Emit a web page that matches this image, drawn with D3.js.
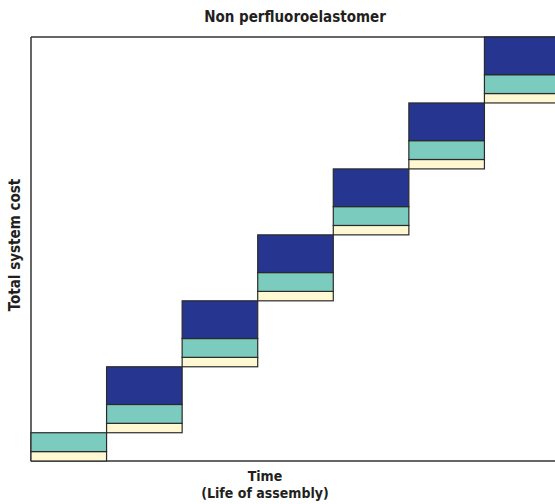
<!DOCTYPE html>
<html>
<head>
<meta charset="utf-8">
<script src="https://cdn.jsdelivr.net/npm/d3@7"></script>
<style>
  html, body { margin: 0; padding: 0; background: #fff; overflow: hidden; }
  text { font-family: "Liberation Sans Narrow", "Arial Narrow", "DejaVu Sans Condensed", sans-serif; font-weight: bold; fill: #231f20; }
</style>
</head>
<body>
<div id="chart"></div>
<script>
// Stages over the life of the assembly (each is one replacement cycle)
const stages = ["1", "2", "3", "4", "5", "6", "7"];
// Cost components per stage (relative units)
const seal = [1, 1, 1, 1, 1, 1, 1];      // cream
const service = [2, 2, 2, 2, 2, 2, 2];   // teal
const downtime = [0, 4, 4, 4, 4, 4, 4];  // dark blue
const layers = ["seal", "service", "downtime"];
const colors = ["#fff8d2", "#7ccbbf", "#263690"];

const width = 555;
const height = 504;
const margin = { top: 37, right: -5, bottom: 43, left: 31 };

// stack each stage on top of the running total of the previous stages
let running = 0;
const rows = stages.map((s, i) => {
  const vals = [seal[i], service[i], downtime[i]];
  const segs = vals.map((v, k) => {
    const seg = { stage: s, layer: layers[k], y0: running, y1: running + v, color: colors[k] };
    running += v;
    return seg;
  });
  return segs;
});
const total = running;

const x = d3.scaleBand()
  .domain(stages)
  .range([margin.left, width - margin.right])
  .padding(0);

const y = d3.scaleLinear()
  .domain([0, total])
  .range([height - margin.bottom, margin.top]);

const svg = d3.select("#chart")
  .append("svg")
  .attr("width", width)
  .attr("height", height);

// title
svg.append("text")
  .attr("x", 295)
  .attr("y", 22)
  .attr("text-anchor", "middle")
  .style("font-size", "15px")
  .text("Non perfluoroelastomer");

// frame (left, top, bottom; right side runs off the page)
const frame = svg.append("g")
  .attr("stroke", "#333")
  .attr("stroke-width", 1.5);
frame.append("line")
  .attr("x1", margin.left).attr("x2", width)
  .attr("y1", y(total)).attr("y2", y(total));
frame.append("line")
  .attr("x1", margin.left).attr("x2", width)
  .attr("y1", y(0)).attr("y2", y(0));
frame.append("line")
  .attr("x1", margin.left).attr("x2", margin.left)
  .attr("y1", y(total)).attr("y2", y(0));

// stacked step bars
svg.append("g")
  .selectAll("rect")
  .data(rows.flat().filter(d => d.y1 > d.y0))
  .join("rect")
  .attr("x", d => x(d.stage))
  .attr("width", x.bandwidth())
  .attr("y", d => y(d.y1))
  .attr("height", d => y(d.y0) - y(d.y1))
  .attr("fill", d => d.color)
  .attr("stroke", "#2a2a2a")
  .attr("stroke-width", 1.2);

// y axis label
svg.append("text")
  .attr("transform", "translate(20,245) rotate(-90)")
  .attr("text-anchor", "middle")
  .style("font-size", "15px")
  .text("Total system cost");

// x axis label, two lines
svg.append("text")
  .attr("x", 265)
  .attr("y", 481)
  .attr("text-anchor", "middle")
  .style("font-size", "14px")
  .text("Time");
svg.append("text")
  .attr("x", 265)
  .attr("y", 498)
  .attr("text-anchor", "middle")
  .style("font-size", "14px")
  .text("(Life of assembly)");
</script>
</body>
</html>
